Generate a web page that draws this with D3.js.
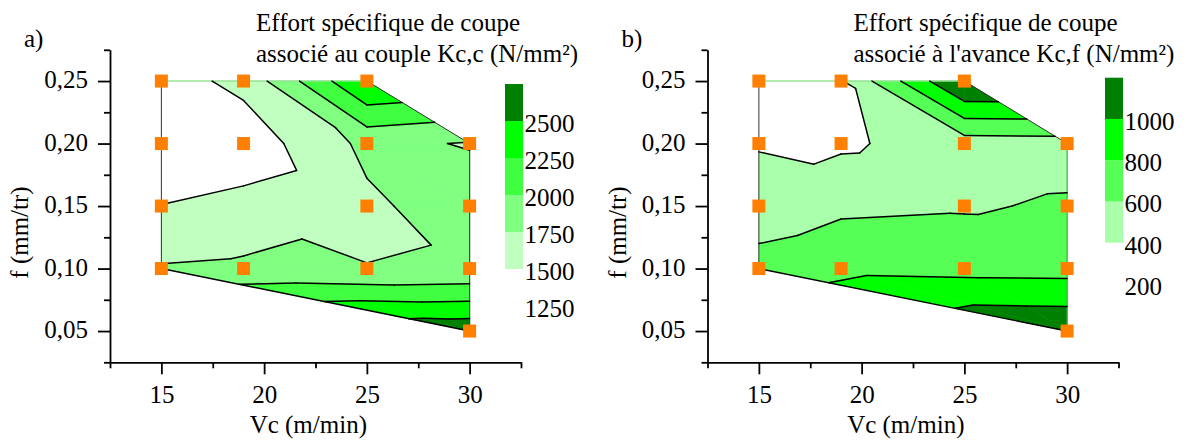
<!DOCTYPE html>
<html><head><meta charset="utf-8">
<script src="https://cdn.jsdelivr.net/npm/d3@7"></script>
<style>
body{margin:0;background:#fff}
svg{display:block;background:#fff}
svg text{fill:#000}
</style>
</head><body>
<svg id="chart" width="1192" height="443"></svg>
<script>
// ---- data (measured points of the experimental plan) ----
// point order: A B C | D E F G | H I J | K L M N | O
const vcValues = [15, 19, 25, 15, 19, 25, 30, 15, 25, 30, 15, 19, 25, 30, 30];
const fValues  = [0.25, 0.25, 0.25, 0.20, 0.20, 0.20, 0.20, 0.15, 0.15, 0.15, 0.10, 0.10, 0.10, 0.10, 0.05];
const kccValues = [1390, 1568, 2520, 1370, 1349, 1812, 1733, 1505, 1700, 1890, 1770, 1795, 1755, 1780, 2680];
const kcfValues = [370, 386, 1240, 390, 368, 505, 515, 465, 580, 623, 690, 752, 735, 728, 1177];
// triangulation of the points (indices)
const triangles = [[0,1,4],[0,4,3],[1,2,5],[1,5,4],[2,5,6],[5,6,9],[5,9,8],[4,5,8],
  [3,4,7],[7,4,11],[4,8,11],[7,11,10],[11,8,12],[8,12,13],[8,13,9],[10,11,14],[11,12,14],[12,13,14]];
// contour levels / colours
const levelsC = [1500, 1750, 2000, 2250, 2500, 2750];
const colorsC = ["#c0ffc0", "#80ff80", "#40ff40", "#00ff00", "#008000"];
const legendLabelsC = [1250, 1500, 1750, 2000, 2250, 2500];
const levelsF = [400, 600, 800, 1000, 1200];
const colorsF = ["#aaffaa", "#55ff55", "#00ff00", "#008000"];
const legendLabelsF = [200, 400, 600, 800, 1000];
// axes
const xMajor = [15, 20, 25, 30];
const xMinor = [12.5, 17.5, 22.5, 27.5, 32.5];
const yMajor = [0.05, 0.10, 0.15, 0.20, 0.25];
const yMinor = [0.025, 0.075, 0.125, 0.175, 0.225, 0.275];
const titleC = ["Effort spécifique de coupe", "associé au couple Kc,c (N/mm²)"];
const titleF = ["Effort spécifique de coupe", "associé à l'avance Kc,f (N/mm²)"];

// ---- layout ----
const svg = d3.select("#chart");
const fr = d3.formatLocale({decimal: ",", thousands: " ", grouping: [3], currency: ["", ""]});
const fmtY = fr.format(".2f");
const FS = 25;
const FONT = "'Liberation Serif','Tinos','Nimbus Roman','Nimbus Roman No9 L','FreeSerif','Noto Serif','DejaVu Serif','Noto Serif CJK SC','Times New Roman',Times,serif";

const panels = [
  {label: "a)", values: kccValues, levels: levelsC, colors: colorsC, legendLabels: legendLabelsC,
   title: titleC, dx: 0, legendX: 505, legendRange: [269, 84], rightEdge: "#444"},
  {label: "b)", values: kcfValues, levels: levelsF, colors: colorsF, legendLabels: legendLabelsF,
   title: titleF, dx: 597.5, legendX: 1105, legendRange: [242.7, 77.7], rightEdge: "#3cb43c"}
];

function clip(poly, lev, keepAbove) {
  const out = [];
  for (let i = 0; i < poly.length; i++) {
    const p = poly[i], q = poly[(i + 1) % poly.length];
    const pin = keepAbove ? p.z >= lev : p.z <= lev;
    const qin = keepAbove ? q.z >= lev : q.z <= lev;
    if (pin) out.push(p);
    if (pin !== qin) {
      const t = (lev - p.z) / (q.z - p.z);
      out.push({x: p.x + t * (q.x - p.x), y: p.y + t * (q.y - p.y), z: lev});
    }
  }
  return out;
}

panels.forEach(P => {
  const g = svg.append("g").style("font-family", FONT);
  const x = d3.scaleLinear().domain([12.5, 32.5]).range([110 + P.dx, 521 + P.dx]);
  const y = d3.scaleLinear().domain([0.025, 0.275]).range([362.3, 49.8]);
  const pts = vcValues.map((v, i) => ({x: v, y: fValues[i], z: P.values[i]}));
  const line = d3.line().x(d => x(d.x)).y(d => y(d.y));

  // filled bands
  const nb = P.levels.length - 1;
  for (let b = 0; b < nb; b++) {
    const lo = P.levels[b], hi = b === nb - 1 ? Infinity : P.levels[b + 1];
    triangles.forEach(tr => {
      let poly = tr.map(i => pts[i]);
      poly = clip(poly, lo, true);
      if (poly.length < 3) return;
      if (hi !== Infinity) poly = clip(poly, hi, false);
      if (poly.length < 3) return;
      g.append("path").attr("d", line(poly) + "Z")
        .attr("fill", P.colors[b]).attr("stroke", P.colors[b]).attr("stroke-width", 0.6);
    });
  }

  // hull border
  const hull = d3.polygonHull(pts.map(p => [p.x, p.y, p.z]));
  for (let i = 0; i < hull.length; i++) {
    const a = hull[i], c = hull[(i + 1) % hull.length];
    let col = "#333", w = 1;
    if (a[1] === 0.25 && c[1] === 0.25) { col = "#98e098"; w = 1.6; }
    else if (a[0] === 30 && c[0] === 30) { col = P.rightEdge; w = 1.2; }
    else if (a[0] !== c[0] && a[1] !== c[1] && Math.min(a[1], c[1]) < 0.1) { col = "#000"; w = 1.4; }
    g.append("line").attr("x1", x(a[0])).attr("y1", y(a[1])).attr("x2", x(c[0])).attr("y2", y(c[1]))
      .attr("stroke", col).attr("stroke-width", w);
  }

  // contour lines
  const segs = [];
  P.levels.forEach(lev => {
    triangles.forEach(tr => {
      const v = tr.map(i => pts[i]);
      const cr = [];
      for (let k = 0; k < 3; k++) {
        const p = v[k], q = v[(k + 1) % 3];
        if ((p.z - lev) * (q.z - lev) < 0) {
          const t = (lev - p.z) / (q.z - p.z);
          cr.push({x: p.x + t * (q.x - p.x), y: p.y + t * (q.y - p.y)});
        }
      }
      if (cr.length === 2) segs.push(cr);
    });
  });
  g.append("g").selectAll("path").data(segs).join("path")
    .attr("d", d => line(d)).attr("fill", "none").attr("stroke", "#000")
    .attr("stroke-width", 1.5).attr("stroke-linecap", "round");

  // axes
  const axY = g.append("g").attr("transform", `translate(${x(12.5)},0)`);
  axY.call(d3.axisLeft(y).tickValues(yMajor).tickSize(12).tickSizeOuter(0).tickPadding(10).tickFormat(fmtY));
  axY.append("g").call(d3.axisLeft(y).tickValues(yMinor).tickSize(6).tickSizeOuter(0).tickFormat(""))
    .select(".domain").remove();
  const axX = g.append("g").attr("transform", `translate(0,${y(0.025)})`);
  axX.call(d3.axisBottom(x).tickValues(xMajor).tickSize(12).tickSizeOuter(0).tickPadding(11).tickFormat(d3.format("d")));
  axX.append("g").call(d3.axisBottom(x).tickValues(xMinor).tickSize(6).tickSizeOuter(0).tickFormat(""))
    .select(".domain").remove();
  [axX, axY].forEach(a => {
    a.attr("font-family", null).attr("font-size", FS);
    a.selectAll("g").attr("font-family", null);
    a.selectAll("path,line").attr("stroke", "#000").attr("stroke-width", 1.8);
    a.selectAll("text").attr("font-size", FS).style("font-family", FONT).attr("fill", "#000");
  });
  axY.selectAll(".tick text").attr("dy", "0.26em");

  // axis titles
  g.append("text").attr("x", 308.3 + P.dx).attr("y", 433).attr("text-anchor", "middle")
    .attr("font-size", FS).text("Vc (m/min)");
  g.append("text").attr("transform", `translate(${28 + P.dx},232.5) rotate(-90)`)
    .attr("text-anchor", "middle").attr("font-size", FS).text("f (mm/tr)");

  // panel label + title
  g.append("text").attr("x", 24 + P.dx).attr("y", 47).attr("font-size", FS).text(P.label);
  P.title.forEach((t, i) => g.append("text").attr("x", 256 + P.dx).attr("y", 30.7 + 31 * i)
    .attr("font-size", FS).text(t));

  // markers
  g.append("g").selectAll("rect").data(pts).join("rect")
    .attr("x", d => x(d.x) - 6.5).attr("y", d => y(d.y) - 6.5)
    .attr("width", 13).attr("height", 13).attr("fill", "#ff8000");

  // colour legend
  const ly = d3.scaleLinear().domain([P.levels[0], P.levels[P.levels.length - 1]]).range(P.legendRange);
  const lg = g.append("g");
  lg.selectAll("rect").data(P.colors).join("rect")
    .attr("x", P.legendX).attr("width", 18)
    .attr("y", (c, i) => ly(P.levels[i + 1])).attr("height", (c, i) => ly(P.levels[i]) - ly(P.levels[i + 1]))
    .attr("fill", c => c);
  lg.selectAll("text").data(P.legendLabels).join("text")
    .attr("x", P.legendX + 19.5).attr("y", d => ly(d) + 11)
    .attr("font-size", FS).text(d => d);
});
</script>
</body></html>
